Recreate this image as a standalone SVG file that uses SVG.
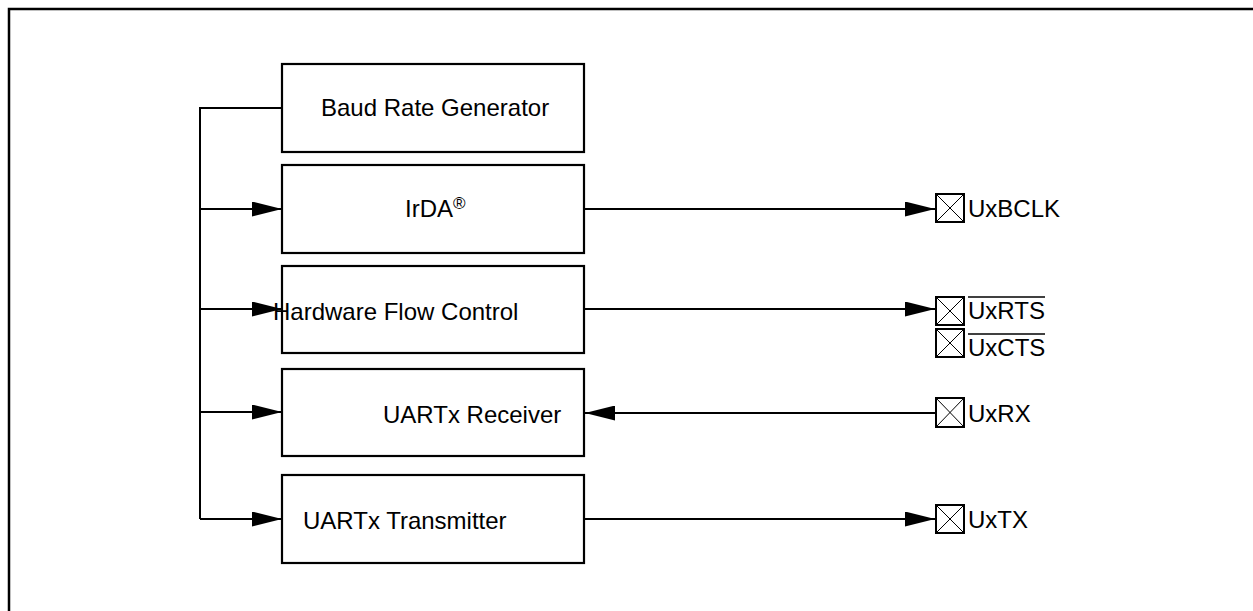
<svg xmlns="http://www.w3.org/2000/svg" width="1253" height="611" viewBox="0 0 1253 611">
<style>
.box{fill:#fff;stroke:#000;stroke-width:2.2}
.t{font-family:"Liberation Sans",Arial,sans-serif;font-size:24px;fill:#000}
.ln{fill:none;stroke:#000;stroke-width:2}
.pin{fill:#fff;stroke:#000;stroke-width:2}
.x{stroke:#000;stroke-width:1}
.ov{stroke:#000;stroke-width:1.6}
</style>
<defs>
<marker id="ah" markerUnits="userSpaceOnUse" markerWidth="30" markerHeight="15" refX="30" refY="7.5" orient="auto">
<path d="M0,0 L30,7.5 L0,15 z" fill="#000"/>
</marker>
</defs>
<path d="M9,611 V9 H1253" fill="none" stroke="#000" stroke-width="2.5"/>
<g id="connectors">
<path class="ln" d="M282,108 H200 V519"/>
<line class="ln" x1="200" y1="209" x2="282" y2="209" marker-end="url(#ah)"/>
<line class="ln" x1="200" y1="309" x2="282" y2="309" marker-end="url(#ah)"/>
<line class="ln" x1="200" y1="412" x2="282" y2="412" marker-end="url(#ah)"/>
<line class="ln" x1="200" y1="519" x2="282" y2="519" marker-end="url(#ah)"/>
<line class="ln" x1="584" y1="209" x2="935" y2="209" marker-end="url(#ah)"/>
<line class="ln" x1="584" y1="309" x2="935" y2="309" marker-end="url(#ah)"/>
<line class="ln" x1="936" y1="413" x2="585" y2="413" marker-end="url(#ah)"/>
<line class="ln" x1="584" y1="519" x2="935" y2="519" marker-end="url(#ah)"/>
</g>
<g id="baud">
<rect class="box" x="282" y="64" width="302" height="88"/>
<text class="t" x="321" y="116">Baud Rate Generator</text>
</g>
<g id="irda">
<rect class="box" x="282" y="165" width="302" height="88"/>
<text class="t" x="405" y="217">IrDA<tspan font-size="17" dy="-8">®</tspan></text>
</g>
<g id="hfc">
<rect class="box" x="282" y="266" width="302" height="87"/>
<text class="t" x="273" y="320">Hardware Flow Control</text>
</g>
<g id="receiver">
<rect class="box" x="282" y="369" width="302" height="87"/>
<text class="t" x="383" y="423">UARTx Receiver</text>
</g>
<g id="transmitter">
<rect class="box" x="282" y="475" width="302" height="88"/>
<text class="t" x="303" y="529">UARTx Transmitter</text>
</g>
<g id="pin-uxbclk">
<rect class="pin" x="936" y="194" width="28" height="28"/>
<path class="x" d="M936,194 L964,222 M964,194 L936,222"/>
<text class="t" x="968" y="217">UxBCLK</text>
</g>
<g id="pin-uxrts">
<rect class="pin" x="936" y="297" width="28" height="28"/>
<path class="x" d="M936,297 L964,325 M964,297 L936,325"/>
<text class="t" x="968" y="319">UxRTS</text>
<line class="ov" x1="968" y1="297" x2="1045" y2="297"/>
</g>
<g id="pin-uxcts">
<rect class="pin" x="936" y="329" width="28" height="28"/>
<path class="x" d="M936,329 L964,357 M964,329 L936,357"/>
<text class="t" x="968" y="356">UxCTS</text>
<line class="ov" x1="968" y1="334" x2="1045" y2="334"/>
</g>
<g id="pin-uxrx">
<rect class="pin" x="936" y="398" width="28" height="29"/>
<path class="x" d="M936,398 L964,427 M964,398 L936,427"/>
<text class="t" x="968" y="422">UxRX</text>
</g>
<g id="pin-uxtx">
<rect class="pin" x="936" y="505" width="28" height="28"/>
<path class="x" d="M936,505 L964,533 M964,505 L936,533"/>
<text class="t" x="968" y="528">UxTX</text>
</g>
</svg>
